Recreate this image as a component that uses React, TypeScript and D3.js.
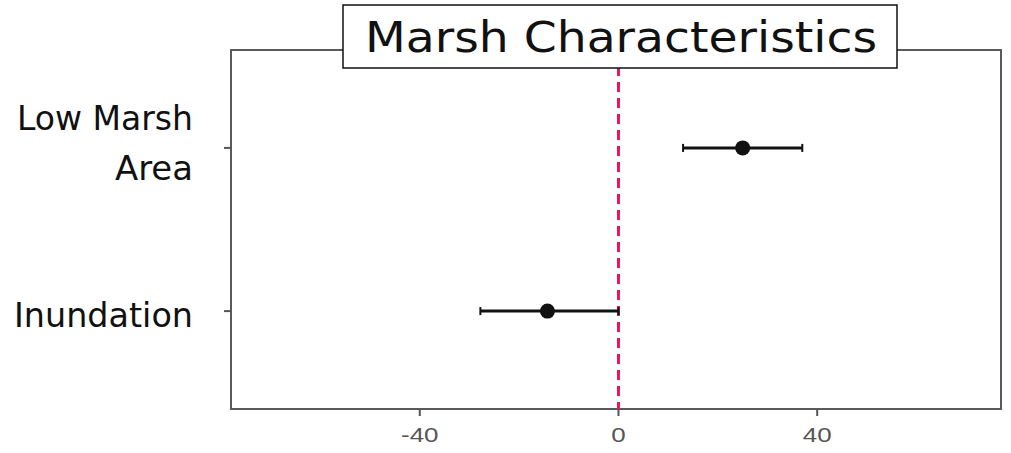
import React from "react";
import * as d3 from "d3";

const categories = ["Low Marsh Area", "Inundation"];
const labelLines = [["Low Marsh", "Area"], ["Inundation"]];
const labelWidths = [[176, 78], [179]];
const estimates = [25, -14.3];
const lowers = [13, -27.8];
const uppers = [37, 0];
const xTicks = [-40, 0, 40];
const title = "Marsh Characteristics";

const W = 1011, H = 453;
const L = 231, R = 1001, T = 50, B = 409;

export default function App() {
  const x = d3.scaleLinear().domain([-78, 77]).range([L, R]);
  const y = d3.scalePoint<string>().domain(categories).range([T, B]).padding(0.6);
  const font = "'DejaVu Sans', sans-serif";
  return (
    <svg width={W} height={H} style={{ position: "absolute", left: 0, top: 0, background: "#fff" }}>
      <rect x={L} y={T} width={R - L} height={B - T} fill="none" stroke="#5a5a5a" strokeWidth={2} />
      {categories.map((c) => (
        <line key={c} x1={L - 7} x2={L} y1={y(c)} y2={y(c)} stroke="#555" strokeWidth={2} />
      ))}
      {xTicks.map((t) => (
        <g key={t}>
          <line x1={x(t)} x2={x(t)} y1={B} y2={B + 7} stroke="#555" strokeWidth={2} />
          <text
            transform={`translate(${x(t)},442) scale(1.3,1)`}
            textAnchor="middle"
            fontFamily="'Liberation Sans', Arial, sans-serif"
            fontSize={20}
            fill="#555"
          >
            {t}
          </text>
        </g>
      ))}
      <line x1={x(0)} x2={x(0)} y1={T} y2={B} stroke="#f0145a" strokeWidth={3} strokeDasharray="10,6" />
      {categories.map((c, i) => {
        const yy = y(c)!;
        return (
          <g key={c}>
            <line x1={x(lowers[i])} x2={x(uppers[i])} y1={yy} y2={yy} stroke="#111" strokeWidth={3} />
            <line x1={x(lowers[i])} x2={x(lowers[i])} y1={yy - 4} y2={yy + 4} stroke="#111" strokeWidth={2} />
            <line x1={x(uppers[i])} x2={x(uppers[i])} y1={yy - 4} y2={yy + 4} stroke="#111" strokeWidth={2} />
            <circle cx={x(estimates[i])} cy={yy} r={7.5} fill="#111" />
          </g>
        );
      })}
      {categories.map((c, i) => {
        const lines = labelLines[i];
        const yy = y(c)!;
        const lh = 50;
        const start = lines.length > 1 ? yy - 18 : yy + 16;
        return (
          <text key={c} textAnchor="end" fontFamily={font} fontSize={33} fill="#111">
            {lines.map((ln, j) => (
              <tspan key={j} x={193} y={start + j * lh} textLength={labelWidths[i][j]} lengthAdjust="spacingAndGlyphs">
                {ln}
              </tspan>
            ))}
          </text>
        );
      })}
      <rect x={343} y={5} width={554} height={63} fill="#fff" stroke="#111" strokeWidth={1.5} />
      <text x={621} y={52} textAnchor="middle" fontFamily={font} fontSize={42} fill="#111" textLength={512} lengthAdjust="spacingAndGlyphs">
        {title}
      </text>
    </svg>
  );
}
